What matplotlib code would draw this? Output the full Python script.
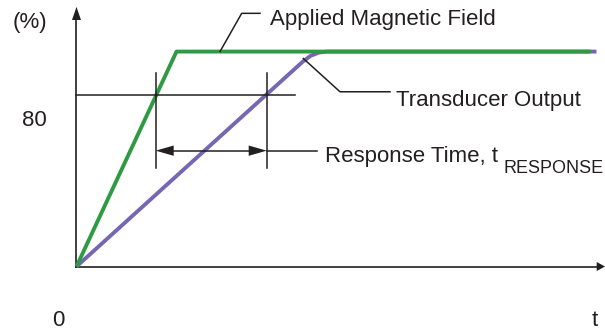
import matplotlib
matplotlib.use("Agg")
import matplotlib.pyplot as plt

plt.rcParams['font.family'] = ['Liberation Sans', 'DejaVu Sans']

# step response: time (arbitrary units) and level (%)
field_t = [0, 100, 514]
field_pct = [0, 100, 100]
output_t = [0, 226, 234, 242, 250, 520]
output_pct = [0, 95.2, 98, 99.5, 100, 100]

level = 80
t_start = 79.2   # field crosses the level
t_end = 190.2    # output crosses the level

green = "#2e9a44"
purple = "#7667b2"
ink = "#231f20"

fig = plt.figure(figsize=(6.05, 3.31), dpi=100)
ax = fig.add_axes([0, 0, 1, 1])
ax.set_xlim(-76.5, 528.5)
ax.set_ylim(-30.0, 124.0)
ax.axis("off")

# axes with arrow heads
ax.plot([0, 0], [0, 115], color=ink, lw=1.2)
ax.fill([-4.5, 4.5, 0], [114.7, 114.7, 120.8], color=ink, lw=0)
ax.plot([0, 521], [0, 0], color=ink, lw=1.2)
ax.fill([520.2, 520.2, 528.5], [-2.1, 2.1, 0], color=ink, lw=0)

# curves
ax.plot(output_t, output_pct, color=purple, lw=2.8, solid_capstyle="butt")
ax.plot(field_t, field_pct, color=green, lw=2.8, solid_capstyle="butt")

# level line and markers
ax.plot([0, 218.5], [level, level], color=ink, lw=1.1)
ax.plot([t_start, t_start], [45.8, 90], color=ink, lw=1.1)
ax.plot([t_end, t_end], [45.8, 90], color=ink, lw=1.1)

# response time double arrow
ya = 53.9
ax.plot([t_start + 10, t_end - 10], [ya, ya], color=ink, lw=1.1)
ax.plot([t_end, 240], [ya, ya], color=ink, lw=1.1)
ax.fill([t_start, t_start + 18, t_start + 18], [ya, ya + 2.4, ya - 2.4], color=ink, lw=0)
ax.fill([t_end, t_end - 18, t_end - 18], [ya, ya + 2.4, ya - 2.4], color=ink, lw=0)

# leaders
ax.plot([143.5, 165.2, 183.5], [100, 117.8, 117.8], color=ink, lw=1.1)
ax.plot([226.8, 263.5, 313.5], [96.8, 81.3, 81.3], color=ink, lw=1.1)

fs = 16
ax.text(193.5, 114.7, "Applied Magnetic Field", fontsize=fs, color=ink, ha="left", va="center")
ax.text(319.5, 77.4, "Transducer Output", fontsize=fs, color=ink, ha="left", va="center")
ax.text(248.5, 51.1, "Response Time, t", fontsize=fs, color=ink, ha="left", va="center")
ax.text(427.0, 45.6, "RESPONSE", fontsize=13, color=ink, ha="left", va="center")

ax.text(-46.5, 113.7, "(%)", fontsize=fs, color=ink, ha="center", va="center")
ax.text(-42, 68.1, "80", fontsize=fs, color=ink, ha="center", va="center")
ax.text(-18.5, -24.9, "0", fontsize=fs, color=ink, ha="center", va="center")
ax.text(518.5, -24.9, "t", fontsize=fs, color=ink, ha="center", va="center")

fig.savefig("out.png", dpi=100)
